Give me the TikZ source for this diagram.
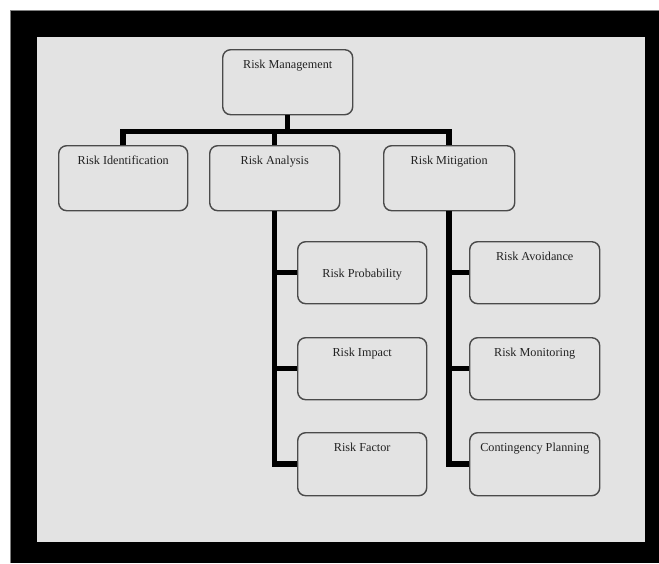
\documentclass[tikz,border=0pt]{standalone}
\usepackage{fontspec}
\setmainfont{Liberation Serif}
\definecolor{bg}{HTML}{E3E3E3}
\definecolor{boxline}{HTML}{4A4A4A}
\definecolor{txt}{HTML}{222222}
\begin{document}
\begin{tikzpicture}[x=1pt,y=-1pt,
  box/.style={draw=boxline, line width=1.4pt, rounded corners=8pt, fill=bg,
    anchor=north west, inner sep=0pt, minimum width=130pt, text height=19pt,
    font=\fontsize{12.2}{14}\selectfont, text=txt},
  conn/.style={line width=5.5pt, draw=black},
]
\useasboundingbox (0,0) rectangle (659,563);
\fill[white] (0,0) rectangle (659,563);
\fill[black] (10,10) rectangle (659,563);
\draw[gray, line width=0.8pt] (10,563) -- (10,10) -- (659,10);
\fill[bg] (37,37) rectangle (645,542);

% top level
\node[box, text depth=46pt] (rm) at (222,49) {Risk Management};
\node[box, minimum width=129pt, text depth=46pt] (ri) at (58,145) {Risk Identification};
\node[box, text depth=46pt] (ra) at (209,145) {Risk Analysis};
\node[box, minimum width=131pt, text depth=46pt] (rmit) at (383,145) {Risk Mitigation};

% analysis children
\node[box, minimum width=129pt, text height=36pt, text depth=26pt] (rp) at (297,241) {Risk Probability};
\node[box, minimum width=129pt, text depth=43pt] (rimp) at (297,337) {Risk Impact};
\node[box, minimum width=129pt, text depth=44pt] (rf) at (297,432) {Risk Factor};

% mitigation children
\node[box, text depth=43pt] (rav) at (469,241) {Risk Avoidance};
\node[box, text depth=43pt] (rmon) at (469,337) {Risk Monitoring};
\node[box, text depth=44pt] (cp) at (469,432) {Contingency Planning};

% connectors
\path (rm.south) ++(0,16) coordinate (bus);
\draw[conn] (rm.south) -- (bus);
\draw[conn] (ri.north) |- (bus) -| (rmit.north);
\draw[conn] (ra.north) -- (ra.north |- bus);

\draw[conn] (ra.south) |- (rf.west);
\draw[conn] (ra.south |- rp.west) -- (rp.west);
\draw[conn] (ra.south |- rimp.west) -- (rimp.west);

\draw[conn] (rmit.south) |- (cp.west);
\draw[conn] (rmit.south |- rav.west) -- (rav.west);
\draw[conn] (rmit.south |- rmon.west) -- (rmon.west);
\end{tikzpicture}
\end{document}
